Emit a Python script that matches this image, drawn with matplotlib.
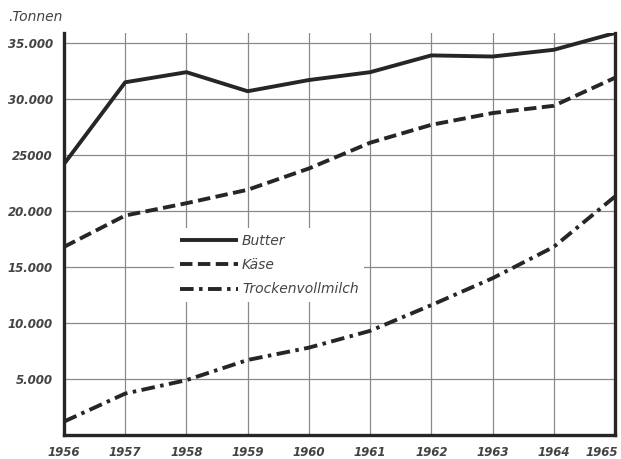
import matplotlib
matplotlib.use("Agg")
import matplotlib.pyplot as plt
import matplotlib.transforms as mtransforms

years = [1956, 1957, 1958, 1959, 1960, 1961, 1962, 1963, 1964, 1965]
butter = [24200, 31500, 32400, 30700, 31700, 32400, 33900, 33800, 34400, 35900]
kaese = [16800, 19600, 20700, 21900, 23800, 26100, 27700, 28750, 29400, 31900]
milch = [1200, 3700, 4900, 6700, 7800, 9300, 11600, 14000, 16800, 21300]
ytick_vals = [5000, 10000, 15000, 20000, 25000, 30000, 35000]
ytick_labels = ["5.000", "10.000", "15.000", "20.000", "25000", "30.000", "35.000"]
series_labels = ["Butter", "Käse", "Trockenvollmilch"]

fig = plt.figure(figsize=(6.21, 4.59), dpi=100)
ax = fig.add_axes([64/621, 24/459, 551/621, 402/459])
ink = "#262626"
tick_kw = dict(fontstyle="italic", fontweight="bold", color="#444444", fontsize=8.5)

ax.plot(years, butter, color=ink, lw=2.8, solid_capstyle="butt", label=series_labels[0], zorder=3)
ax.plot(years, kaese, color=ink, lw=2.8, linestyle=(0, (3.2, 1.4)), label=series_labels[1], zorder=3)
ax.plot(years, milch, color=ink, lw=2.8, linestyle=(0, (3.5, 1.4, 0.9, 1.4)), label=series_labels[2], zorder=3)

ax.set_xlim(1956, 1965)
ax.set_ylim(0, 35900)
ax.set_xticks(years)
ax.set_xticklabels([str(y) for y in years], **tick_kw)
ax.set_yticks(ytick_vals)
ax.set_yticklabels(ytick_labels, **tick_kw)
ax.tick_params(length=0, pad=8)
ax.grid(True, color="#8a8a8a", lw=0.9, zorder=1)
ax.set_axisbelow(True)
ax.spines["top"].set_visible(False)
for s in ["left", "bottom", "right"]:
    ax.spines[s].set_linewidth(2.4)
    ax.spines[s].set_color(ink)

last = ax.get_xticklabels()[-1]
last.set_transform(last.get_transform() + mtransforms.ScaledTranslation(-13/100, 0, fig.dpi_scale_trans))

fig.text(8/621, 1 - 17/459, ".Tonnen", fontstyle="italic", color="#444444", fontsize=10, ha="left", va="center")

leg = ax.legend(loc="center left", bbox_to_anchor=(103/551, (435-265)/402), frameon=True,
                handlelength=4.2, handletextpad=0.3, labelspacing=0.75,
                borderpad=0.4, prop=dict(style="italic", size=10))
leg.get_frame().set_edgecolor("none")
leg.get_frame().set_facecolor("white")
leg.get_frame().set_alpha(1)
for t in leg.get_texts():
    t.set_color("#444444")

fig.savefig("out.png", dpi=100, facecolor="white")
